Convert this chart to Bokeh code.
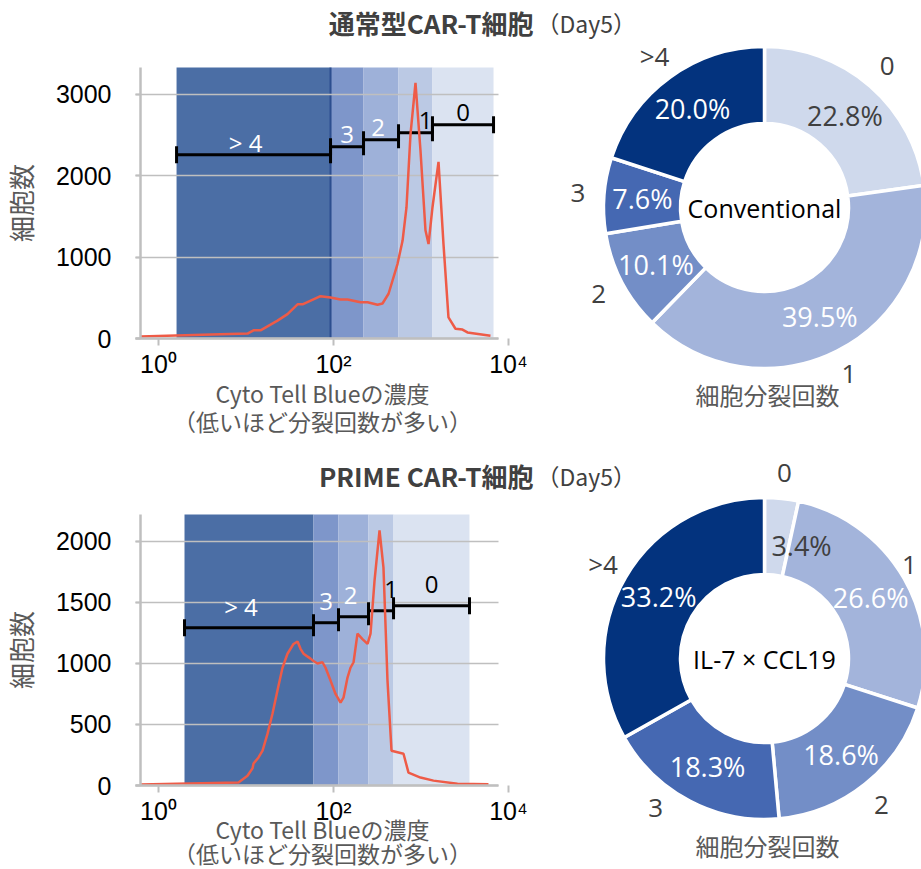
import math
from bokeh.plotting import figure
from bokeh.models import Label, FixedTicker, Range1d
from bokeh.layouts import column, row
from bokeh.embed import file_html
from bokeh.resources import INLINE
from bokeh.core.properties import value

# ---------------- data ----------------
x_ticks = [0, 2, 4]                      # log10 of Cyto Tell Blue intensity
x_tick_labels = ["10⁰", "10²", "10⁴"]

gate_names = ["> 4", "3", "2", "1", "0"]

# Conventional CAR-T (Day5)
conv_gate_edges = [0.206, 1.966, 2.343, 2.743, 3.131, 3.829]
conv_bar_y = [2258, 2356, 2442, 2528, 2626]
conv_y_ticks = [0, 1000, 2000, 3000]
conv_curve_x = [-0.206, 1.017, 1.086, 1.166, 1.36, 1.474, 1.589, 1.646, 1.851, 1.966,
                2.08, 2.16, 2.309, 2.389, 2.503, 2.56, 2.629, 2.731, 2.789, 2.834,
                2.88, 2.937, 2.994, 3.051, 3.086, 3.131, 3.2, 3.257, 3.314, 3.394,
                3.474, 3.531, 3.794]
conv_curve_y = [25, 60, 100, 100, 220, 300, 420, 420, 520, 505,
                480, 480, 445, 445, 415, 430, 550, 915, 1200, 1610,
                2510, 3140, 2310, 1330, 1160, 1610, 2170, 1160, 260, 120,
                110, 75, 35]

# PRIME CAR-T (Day5)
prime_gate_edges = [0.297, 1.771, 2.057, 2.4, 2.686, 3.554]
prime_bar_y = [1293, 1334, 1383, 1432, 1473]
prime_y_ticks = [0, 500, 1000, 1500, 2000]
prime_curve_x = [-0.206, 0.914, 1.017, 1.074, 1.086, 1.143, 1.189, 1.246, 1.303, 1.36,
                 1.417, 1.474, 1.543, 1.589, 1.623, 1.657, 1.737, 1.771, 1.817, 1.874,
                 1.909, 1.966, 2.023, 2.08, 2.114, 2.16, 2.194, 2.229, 2.274, 2.331,
                 2.389, 2.423, 2.469, 2.526, 2.571, 2.617, 2.663, 2.8, 2.857, 2.994,
                 3.143, 3.417, 3.771]
prime_curve_y = [8, 25, 80, 140, 180, 230, 285, 425, 590, 780,
                 965, 1080, 1160, 1180, 1120, 1080, 1040, 1020, 1000, 1010,
                 965, 860, 750, 680, 720, 885, 965, 1010, 1245, 1200,
                 1160, 1245, 1680, 2090, 1785, 860, 285, 260, 105, 65,
                 40, 15, 10]

donut_categories = ["0", "1", "2", "3", ">4"]
conv_share = [22.8, 39.5, 10.1, 7.6, 20.0]
prime_share = [3.4, 26.6, 18.6, 18.3, 33.2]

# ---------------- styles ----------------
GATE_COLORS = ["#4B6EA5", "#7E96CA", "#9EB1D9", "#BBC9E4", "#DBE3F1"]
GATE_TEXT_COLORS = ["white", "white", "white", "black", "black"]
GATE_LABEL_SHIFT = [-8, 0, -3, 10, 0]      # px, horizontal nudge of gate labels
DONUT_COLORS = ["#CFD9EC", "#A3B4DB", "#738EC7", "#4568B2", "#03337E"]
PCT_TEXT_COLORS = ["#404040", "white", "white", "white", "white"]
NO_NUDGE = [(0, 0)] * 5
PRIME_PCT_NUDGE = [(24, -9), (0, 0), (0, 0), (0, 0), (0, 0)]   # px (right, up)
PRIME_CAT_NUDGE = [(0, 0), (0, 0), (0, 0), (-22, 16), (0, 0)]
CURVE_COLOR = "#EE5B47"
GRAY_TEXT = "#595959"
DARK_TEXT = "#404040"
AXIS_GRAY = "#BFBFBF"
JP = "Noto Sans CJK JP"
LATIN = "Open Sans"

PAGE_LEFT = 0
HIST_W = 536
DONUT_W = 385
FRAME_LEFT = 140   # page px of the y axis
FRAME_RIGHT = 508  # page px of 10^4
X_START, X_END = -0.206, 4.0
PLOT_H = 271       # px between y=0 and the top of the gate shading


def make_hist(edges, bar_y, cx, cy, yticks, y_end, row_top, height, axis_y,
              title, label_gap, xlab_y, divider):
    ppx = (FRAME_RIGHT - FRAME_LEFT) / (X_END - X_START)
    ppy = PLOT_H / y_end
    xr = Range1d(X_START - (FRAME_LEFT - PAGE_LEFT) / ppx,
                 X_START + (PAGE_LEFT + HIST_W - FRAME_LEFT) / ppx)
    yr = Range1d(-(row_top + height - axis_y) / ppy, (axis_y - row_top) / ppy)
    p = figure(width=HIST_W, height=height, x_range=xr, y_range=yr, title=None,
               output_backend="svg", toolbar_location=None, min_border=0)
    p.outline_line_color = None
    p.background_fill_color = "white"
    p.border_fill_color = "white"

    def dx(page_x):
        return X_START + (page_x - FRAME_LEFT) / ppx

    def dy(page_y):
        return (axis_y - page_y) / ppy

    # gate shading
    q = p.quad(left=edges[:-1], right=edges[1:], bottom=0, top=y_end,
               fill_color=GATE_COLORS, line_color=None)
    q.level = "image"
    if divider is not None:
        s = p.segment(x0=[divider], x1=[divider], y0=[0], y1=[y_end],
                      line_color="#2C4E8F", line_width=2)
        s.level = "image"

    # grid / axes
    p.xgrid.grid_line_color = None
    p.ygrid.grid_line_color = AXIS_GRAY
    p.ygrid.grid_line_width = 1.5
    p.ygrid.ticker = FixedTicker(ticks=yticks)
    p.ygrid.cross_bounds = (dx(FRAME_LEFT - 5), dx(FRAME_RIGHT - 10))

    p.xaxis.ticker = FixedTicker(ticks=x_ticks)
    p.xaxis.major_label_overrides = dict(zip(x_ticks, x_tick_labels))
    p.xaxis.fixed_location = 0
    p.xaxis.bounds = (dx(FRAME_LEFT - 5), dx(FRAME_RIGHT - 10))
    p.yaxis.ticker = FixedTicker(ticks=yticks)
    p.yaxis.fixed_location = X_START
    p.yaxis.bounds = (0, y_end)
    for ax in (p.xaxis[0], p.yaxis[0]):
        ax.axis_line_color = AXIS_GRAY
        ax.axis_line_width = 2.5
        ax.major_tick_line_color = AXIS_GRAY
        ax.major_tick_line_width = 2
        ax.minor_tick_line_color = None
        ax.major_tick_in = 0
        ax.major_label_text_font = "Liberation Sans"
        ax.major_label_text_color = "black"
    p.xaxis.major_tick_out = 7
    p.xaxis.major_label_standoff = 4
    p.xaxis.major_label_text_font_size = "25px"
    p.yaxis.major_tick_out = 5
    p.yaxis.major_label_standoff = 24
    p.yaxis.major_label_text_font_size = "25px"
    p.yaxis.axis_label = "細胞数"
    p.yaxis.axis_label_text_font = JP
    p.yaxis.axis_label_text_font_size = "26px"
    p.yaxis.axis_label_text_font_style = "normal"
    p.yaxis.axis_label_text_color = GRAY_TEXT
    p.yaxis.axis_label_standoff = 14

    # gate range bars
    p.segment(x0=edges[:-1], x1=edges[1:], y0=bar_y, y1=bar_y,
              line_color="black", line_width=3)
    p.scatter(x=edges[:-1] + edges[1:], y=bar_y + bar_y, marker="dash",
              angle=math.pi / 2, size=17, line_color="black", line_width=3)
    mids = [(a + b) / 2 for a, b in zip(edges[:-1], edges[1:])]
    p.text(x=mids, y=bar_y, text=gate_names, text_align="center",
           text_baseline="alphabetic", y_offset=-label_gap, x_offset=GATE_LABEL_SHIFT,
           text_font=value(LATIN), text_font_size="24px", text_color=GATE_TEXT_COLORS)

    # histogram curve
    p.line(cx, cy, line_color=CURVE_COLOR, line_width=2.5)

    # x axis caption (two lines)
    for txt, py in zip(["Cyto Tell Blueの濃度", "（低いほど分裂回数が多い）"], xlab_y):
        p.add_layout(Label(x=dx(322), y=dy(py), text=txt, text_align="center",
                           text_baseline="middle", text_font=JP, text_font_size="23px",
                           text_color=GRAY_TEXT))
    # title (bold part)
    p.add_layout(Label(x=dx(533), y=dy(title[1]), text=title[0], text_align="right",
                       text_baseline="middle", text_font=JP, text_font_size="26px",
                       text_font_style="bold", text_color=DARK_TEXT))
    return p


def make_donut(shares, center_text, row_top, height, cx_page, cy_page, title_y,
               pct_nudge, cat_nudge):
    p = figure(width=DONUT_W, height=height, x_range=Range1d(0, DONUT_W),
               y_range=Range1d(0, height), output_backend="svg", toolbar_location=None,
               x_axis_location=None, y_axis_location=None, min_border=0, title=None)
    p.outline_line_color = None
    p.grid.visible = False
    left_page = PAGE_LEFT + HIST_W

    def dx(page_x):
        return page_x - left_page

    def dy(page_y):
        return row_top + height - page_y

    cx, cy = dx(cx_page), dy(cy_page)
    total = sum(shares)
    cum = [0.0]
    for s in shares:
        cum.append(cum[-1] + s)
    starts = [math.pi / 2 - 2 * math.pi * c / total for c in cum[:-1]]
    ends = [math.pi / 2 - 2 * math.pi * c / total for c in cum[1:]]
    mids = [(a + b) / 2 for a, b in zip(starts, ends)]
    r_in, r_out = 84, 161
    p.annular_wedge(x=cx, y=cy, inner_radius=r_in, outer_radius=r_out,
                    start_angle=starts, end_angle=ends, direction="clock",
                    fill_color=DONUT_COLORS, line_color="white", line_width=3.5)
    r_mid = (r_in + r_out) / 2
    p.text(x=[cx + r_mid * math.cos(m) + n[0] for m, n in zip(mids, pct_nudge)],
           y=[cy + r_mid * math.sin(m) + n[1] for m, n in zip(mids, pct_nudge)],
           text=[f"{s:.1f}%" for s in shares], text_align="center", text_baseline="middle",
           text_font=value(LATIN), text_font_size="27px", text_color=PCT_TEXT_COLORS)
    r_cat = 187
    p.text(x=[min(cx + r_cat * math.cos(m) + n[0], DONUT_W - 12) for m, n in zip(mids, cat_nudge)],
           y=[cy + r_cat * math.sin(m) + n[1] for m, n in zip(mids, cat_nudge)],
           text=donut_categories, text_align="center", text_baseline="middle",
           text_font=value(LATIN), text_font_size="26px", text_color=DARK_TEXT)
    p.add_layout(Label(x=cx, y=cy, text=center_text, text_align="center",
                       text_baseline="middle", text_font=LATIN, text_font_size="25px",
                       text_color="black"))
    p.add_layout(Label(x=cx + 3, y=cy - 187, text="細胞分裂回数", text_align="center",
                       text_baseline="middle", text_font=JP, text_font_size="24px",
                       text_color=GRAY_TEXT))
    p.add_layout(Label(x=0, y=dy(title_y), text="（Day5）", text_align="left",
                       text_baseline="middle", text_font=JP, text_font_size="23px",
                       text_color=DARK_TEXT))
    return p


TOP_ROW, TOP_H = 0, 441
BOT_ROW, BOT_H = 441, 428

h1 = make_hist(conv_gate_edges, conv_bar_y, conv_curve_x, conv_curve_y, conv_y_ticks,
               3330, TOP_ROW, TOP_H, 338, ("通常型CAR-T細胞", 22), 12, (392, 420),
               conv_gate_edges[1])
h2 = make_hist(prime_gate_edges, prime_bar_y, prime_curve_x, prime_curve_y, prime_y_ticks,
               2221, BOT_ROW, BOT_H, 785, ("PRIME CAR-T細胞", 475), 21, (828, 852),
               None)
d1 = make_donut(conv_share, "Conventional", TOP_ROW, TOP_H, 764, 207, 22,
                NO_NUDGE, NO_NUDGE)
d2 = make_donut(prime_share, "IL-7 × CCL19", BOT_ROW, BOT_H, 764, 658, 475,
                PRIME_PCT_NUDGE, PRIME_CAT_NUDGE)

layout = column(row(h1, d1), row(h2, d2))
open("out.html", "w").write(file_html(layout, INLINE))
